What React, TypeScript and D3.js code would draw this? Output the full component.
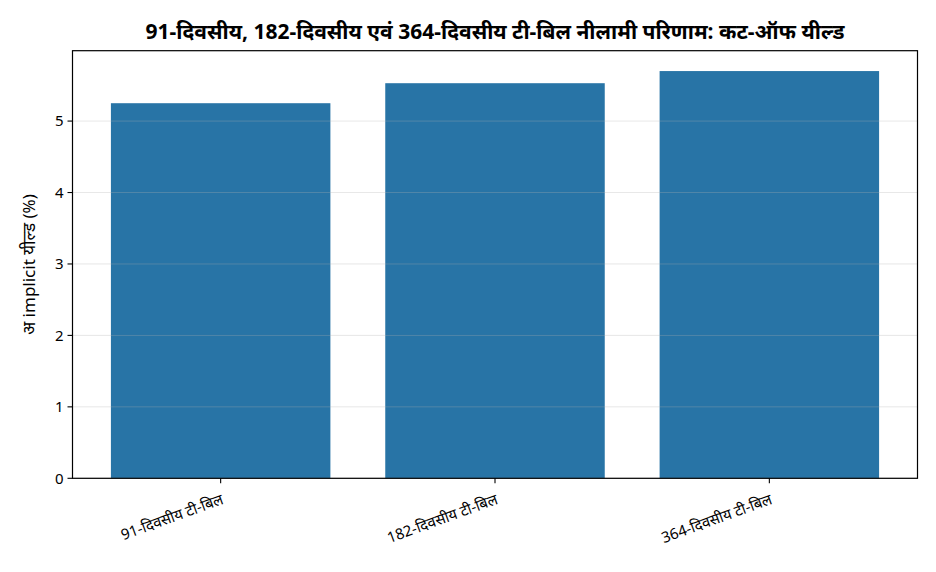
import * as d3 from "d3";

const categories = ["91-दिवसीय टी-बिल", "182-दिवसीय टी-बिल", "364-दिवसीय टी-बिल"];
const yields = [5.25, 5.53, 5.7];
const yTicks = [0, 1, 2, 3, 4, 5];

const title = "91-दिवसीय, 182-दिवसीय एवं 364-दिवसीय टी-बिल नीलामी परिणाम: कट-ऑफ यील्ड";
const yLabel = "अ implicit यील्ड (%)";

const W = 936;
const H = 572;
const m = { left: 72.5, right: 917.5, top: 50.7, bottom: 478.3 };
const font = "'Noto Sans', 'DejaVu Sans', sans-serif";

export default function App() {
  const x = d3
    .scaleBand<string>()
    .domain(categories)
    .range([m.left, m.right])
    .paddingInner(0.2)
    .paddingOuter(0.14);

  const y = d3
    .scaleLinear()
    .domain([0, (d3.max(yields) ?? 0) * 1.05])
    .range([m.bottom, m.top]);

  return (
    <svg
      width={W}
      height={H}
      style={{ position: "absolute", left: 0, top: 0, background: "#fff" }}
      fontFamily={font}
    >
      {/* bars */}
      {yields.map((v, i) => (
        <rect
          key={categories[i]}
          x={x(categories[i])}
          y={y(v)}
          width={x.bandwidth()}
          height={y(0) - y(v)}
          fill="#2874a6"
        />
      ))}

      {/* grid on top, faint */}
      {yTicks.map((t) => (
        <line
          key={t}
          x1={m.left}
          x2={m.right}
          y1={y(t)}
          y2={y(t)}
          stroke="#b0b0b0"
          strokeOpacity={0.3}
          strokeWidth={1}
        />
      ))}

      {/* frame */}
      <rect
        x={m.left}
        y={m.top}
        width={m.right - m.left}
        height={m.bottom - m.top}
        fill="none"
        stroke="#000"
        strokeWidth={1.2}
      />

      {/* y axis ticks */}
      {yTicks.map((t) => (
        <g key={t} transform={`translate(${m.left},${y(t)})`}>
          <line x1={-5} x2={0} stroke="#000" strokeWidth={1.1} />
          <text x={-9} dy="0.36em" textAnchor="end" fontSize={15} fill="#000">
            {t}
          </text>
        </g>
      ))}

      {/* x axis ticks */}
      {categories.map((c) => {
        const cx = (x(c) ?? 0) + x.bandwidth() / 2;
        return (
          <g key={c} transform={`translate(${cx},${m.bottom})`}>
            <line y1={0} y2={5} stroke="#000" strokeWidth={1.1} />
            <text
              transform="translate(0,15) rotate(-20)"
              textAnchor="end"
              dy="0.72em"
              fontSize={15}
              fill="#000"
            >
              {c}
            </text>
          </g>
        );
      })}

      {/* y label */}
      <text
        transform={`translate(35,${(m.top + m.bottom) / 2}) rotate(-90)`}
        textAnchor="middle"
        fontSize={17}
        fill="#000"
      >
        {yLabel}
      </text>

      {/* title */}
      <text
        x={(m.left + m.right) / 2}
        y={39}
        textAnchor="middle"
        fontSize={21}
        fontWeight="bold"
        fill="#000"
      >
        {title}
      </text>
    </svg>
  );
}
